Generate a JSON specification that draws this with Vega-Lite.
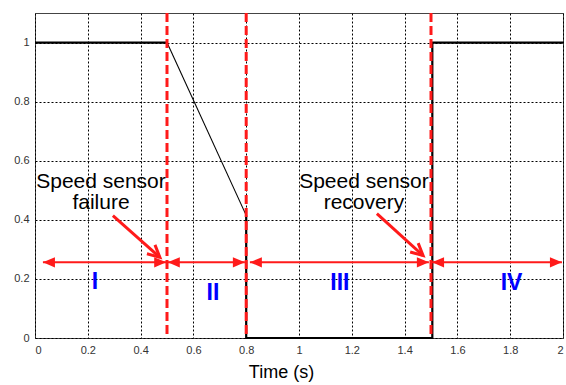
{
  "$schema": "https://vega.github.io/schema/vega-lite/v6.json",
  "width": 528,
  "height": 325,
  "autosize": "none",
  "padding": {"left": 35, "top": 13, "right": 3, "bottom": 47},
  "background": "white",
  "config": {
    "view": {"stroke": "#444444", "strokeWidth": 1},
    "axis": {
      "domain": false,
      "ticks": false,
      "grid": true,
      "gridColor": "#000000",
      "gridDash": [2, 2],
      "gridWidth": 1,
      "gridOpacity": 1,
      "labelFont": "Liberation Sans",
      "labelFontSize": 11,
      "labelColor": "#333333",
      "titleFont": "Liberation Sans",
      "titleFontWeight": "normal"
    }
  },
  "datasets": {
    "signal": [
      {"seg": "a", "i": 0, "x": 0, "y": 1},
      {"seg": "a", "i": 1, "x": 0.5, "y": 1},
      {"seg": "b", "i": 2, "x": 0.5, "y": 1},
      {"seg": "b", "i": 3, "x": 0.8, "y": 0.415},
      {"seg": "c", "i": 4, "x": 0.8, "y": 0.415},
      {"seg": "c", "i": 5, "x": 0.8, "y": 0},
      {"seg": "c", "i": 6, "x": 1.505, "y": 0},
      {"seg": "c", "i": 7, "x": 1.505, "y": 1},
      {"seg": "c", "i": 8, "x": 2, "y": 1}
    ],
    "events": [{"x": 0.5}, {"x": 0.8}, {"x": 1.5}],
    "spans": [
      {"x": 0.03, "x2": 0.497, "y": 0.256},
      {"x": 0.503, "x2": 0.795, "y": 0.256},
      {"x": 0.814, "x2": 1.492, "y": 0.256},
      {"x": 1.504, "x2": 1.996, "y": 0.256}
    ],
    "rightTips": [
      {"x": 0.497, "y": 0.256},
      {"x": 0.795, "y": 0.256},
      {"x": 1.492, "y": 0.256},
      {"x": 1.996, "y": 0.256}
    ],
    "leftTips": [
      {"x": 0.03, "y": 0.256},
      {"x": 0.503, "y": 0.256},
      {"x": 0.814, "y": 0.256},
      {"x": 1.504, "y": 0.256}
    ],
    "pointers": [
      {"x": 0.295, "y": 0.414, "x2": 0.473, "y2": 0.273},
      {"x": 1.295, "y": 0.421, "x2": 1.47, "y2": 0.279}
    ],
    "notes": [
      {"x": 0.25, "y": 0.508, "label": "Speed sensor\nfailure"},
      {"x": 1.246, "y": 0.508, "label": "Speed sensor\nrecovery"}
    ],
    "phases": [
      {"x": 0.227, "y": 0.165, "label": "I"},
      {"x": 0.674, "y": 0.128, "label": "II"},
      {"x": 1.155, "y": 0.162, "label": "III"},
      {"x": 1.805, "y": 0.162, "label": "IV"}
    ]
  },
  "layer": [
    {
      "data": {"name": "signal"},
      "transform": [{"filter": "datum.seg !== 'b'"}],
      "mark": {"type": "line", "color": "#000000", "strokeWidth": 2.2},
      "encoding": {
        "x": {"field": "x", "type": "quantitative", "scale": {"domain": [0, 2], "nice": false},
              "axis": {"values": [0, 0.2, 0.4, 0.6, 0.8, 1, 1.2, 1.4, 1.6, 1.8, 2], "format": "~g", "labelPadding": 6,
                       "title": "Time (s)", "titleFontSize": 18, "titleColor": "#000000", "titleX": 246, "titleY": 39, "titleBaseline": "alphabetic", "titleAlign": "center", "titleAnchor": null}},
        "y": {"field": "y", "type": "quantitative", "scale": {"domain": [0, 1.1], "nice": false},
              "axis": {"values": [0, 0.2, 0.4, 0.6, 0.8, 1], "format": "~g", "labelPadding": 6, "title": null}},
        "detail": {"field": "seg"},
        "order": {"field": "i", "type": "quantitative"}
      }
    },
    {
      "data": {"name": "signal"},
      "transform": [{"filter": "datum.seg === 'b'"}],
      "mark": {"type": "line", "color": "#000000", "strokeWidth": 1.1},
      "encoding": {
        "x": {"field": "x", "type": "quantitative"},
        "y": {"field": "y", "type": "quantitative"},
        "order": {"field": "i", "type": "quantitative"}
      }
    },
    {
      "data": {"name": "events"},
      "mark": {"type": "rule", "color": "#FF1A1A", "strokeWidth": 3, "strokeDash": [9, 4]},
      "encoding": {"x": {"field": "x", "type": "quantitative"}}
    },
    {
      "data": {"name": "spans"},
      "mark": {"type": "rule", "color": "#FF1A1A", "strokeWidth": 2},
      "encoding": {
        "x": {"field": "x", "type": "quantitative"},
        "x2": {"field": "x2"},
        "y": {"field": "y", "type": "quantitative"}
      }
    },
    {
      "data": {"name": "rightTips"},
      "mark": {"type": "point", "shape": "M0,0L-2,-0.85L-2,0.85Z", "size": 144, "filled": true, "color": "#FF1A1A", "opacity": 1},
      "encoding": {
        "x": {"field": "x", "type": "quantitative"},
        "y": {"field": "y", "type": "quantitative"}
      }
    },
    {
      "data": {"name": "leftTips"},
      "mark": {"type": "point", "shape": "M0,0L2,-0.85L2,0.85Z", "size": 144, "filled": true, "color": "#FF1A1A", "opacity": 1},
      "encoding": {
        "x": {"field": "x", "type": "quantitative"},
        "y": {"field": "y", "type": "quantitative"}
      }
    },
    {
      "data": {"name": "pointers"},
      "mark": {"type": "rule", "color": "#FF1A1A", "strokeWidth": 3},
      "encoding": {
        "x": {"field": "x", "type": "quantitative"},
        "y": {"field": "y", "type": "quantitative"},
        "x2": {"field": "x2"},
        "y2": {"field": "y2"}
      }
    },
    {
      "data": {"name": "pointers"},
      "mark": {"type": "point", "shape": "M-2,-1L0,0L-2,1", "size": 144, "filled": false, "stroke": "#FF1A1A", "strokeWidth": 3, "angle": 42, "opacity": 1},
      "encoding": {
        "x": {"field": "x2", "type": "quantitative"},
        "y": {"field": "y2", "type": "quantitative"}
      }
    },
    {
      "data": {"name": "notes"},
      "mark": {"type": "text", "font": "Liberation Sans", "fontSize": 21, "color": "#000000", "align": "center", "baseline": "alphabetic", "lineBreak": "\n", "lineHeight": 21},
      "encoding": {
        "x": {"field": "x", "type": "quantitative"},
        "y": {"field": "y", "type": "quantitative"},
        "text": {"field": "label"}
      }
    },
    {
      "data": {"name": "phases"},
      "mark": {"type": "text", "font": "Liberation Sans", "fontSize": 23, "fontWeight": "bold", "color": "#0000FF", "align": "center", "baseline": "alphabetic"},
      "encoding": {
        "x": {"field": "x", "type": "quantitative"},
        "y": {"field": "y", "type": "quantitative"},
        "text": {"field": "label"}
      }
    }
  ]
}
